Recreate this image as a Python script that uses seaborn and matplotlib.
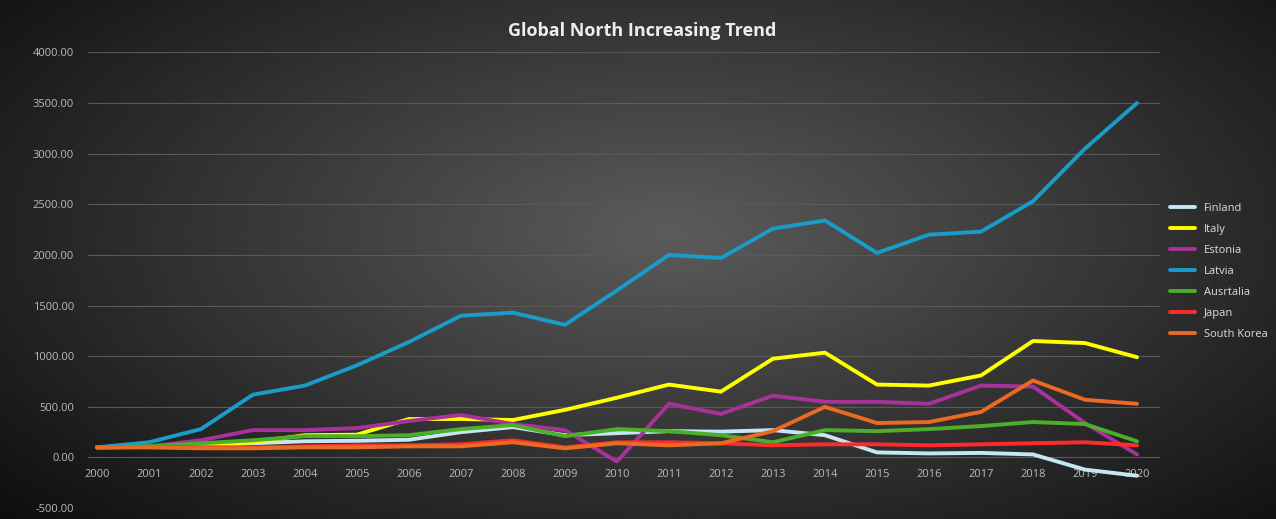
import numpy as np
import pandas as pd
import seaborn as sns
import matplotlib.pyplot as plt

sns.set_theme(style="dark")
plt.rcParams['font.family'] = ['Open Sans', 'DejaVu Sans']

years = list(range(2000, 2021))
finland = [100, 105, 120, 140, 160, 165, 175, 250, 300, 220, 240, 260, 255, 270, 220, 50, 40, 45, 30, -120, -180]
italy = [100, 105, 110, 150, 220, 225, 380, 380, 370, 470, 590, 720, 650, 975, 1035, 720, 710, 810, 1150, 1130, 990]
estonia = [100, 110, 170, 270, 270, 290, 360, 420, 330, 270, -40, 530, 430, 610, 550, 550, 530, 710, 700, 340, 30]
latvia = [100, 150, 280, 620, 710, 910, 1140, 1400, 1430, 1310, 1650, 2000, 1970, 2260, 2340, 2020, 2200, 2230, 2530, 3050, 3500]
australia = [100, 110, 140, 170, 210, 210, 220, 280, 320, 210, 280, 260, 220, 150, 270, 260, 280, 310, 350, 330, 160]
japan = [100, 100, 100, 100, 110, 120, 120, 130, 170, 100, 150, 150, 140, 120, 130, 130, 120, 130, 140, 150, 120]
south_korea = [100, 100, 90, 90, 100, 100, 110, 110, 150, 90, 140, 120, 140, 260, 500, 340, 350, 450, 760, 570, 530]

series = {"Finland": finland, "Italy": italy, "Estonia": estonia, "Latvia": latvia,
          "Ausrtalia": australia, "Japan": japan, "South Korea": south_korea}
colors = ["#c5e6f2", "#ffff00", "#a8329a", "#1a9cc9", "#4caf2a", "#ff2a2a", "#ea6a22"]

df = pd.DataFrame(series, index=years).reset_index(names="Year")
long = df.melt(id_vars="Year", var_name="Country", value_name="Value")

fig = plt.figure(figsize=(12.76, 5.19), dpi=100)
# radial gradient background
bg = fig.add_axes([0, 0, 1, 1])
yy, xx = np.mgrid[-1:1:300j, -1:1:600j]
r = np.sqrt(((xx - 0.05) / 1.2) ** 2 + ((yy + 0.1) / 1.4) ** 2)
bg.imshow(np.clip(0.36 - 0.26 * r, 0.03, 1), cmap="gray", vmin=0, vmax=1, aspect="auto")
bg.axis("off")

ax = fig.add_axes([0.069, 0.021, 0.84, 0.878])
ax.patch.set_alpha(0)
sns.lineplot(data=long, x="Year", y="Value", hue="Country", palette=colors,
             linewidth=2.8, ax=ax, legend=True)
ax.spines["bottom"].set_position(("data", 0))
ax.set_ylim(-500, 4000)
ax.set_xlim(1999.83, 2020.44)
ax.set_yticks(np.arange(-500, 4001, 500))
ax.set_yticklabels([f"{v:.2f}" for v in np.arange(-500, 4001, 500)], color="#bbbbbb", fontsize=8)
ax.tick_params(axis="y", pad=4)
ax.set_xticks(years)
ax.set_xticklabels([str(y) for y in years], color="#bbbbbb", fontsize=8)
ax.tick_params(axis="x", pad=2)
ax.grid(True, axis="y", color="#5a5a5a", linewidth=0.8)
ax.grid(False, axis="x")
for s in ax.spines.values():
    s.set_visible(False)
ax.set_xlabel("")
ax.set_ylabel("")
leg = ax.legend(loc="center left", bbox_to_anchor=(1.0, 0.52), frameon=False, fontsize=8,
                handlelength=2.3, labelspacing=0.9)
for t in leg.get_texts():
    t.set_color("#dddddd")
fig.text(0.503, 0.93, "Global North Increasing Trend", color="#eeeeee", fontsize=13,
         fontweight="bold", ha="center")
fig.savefig("out.png", dpi=100)
